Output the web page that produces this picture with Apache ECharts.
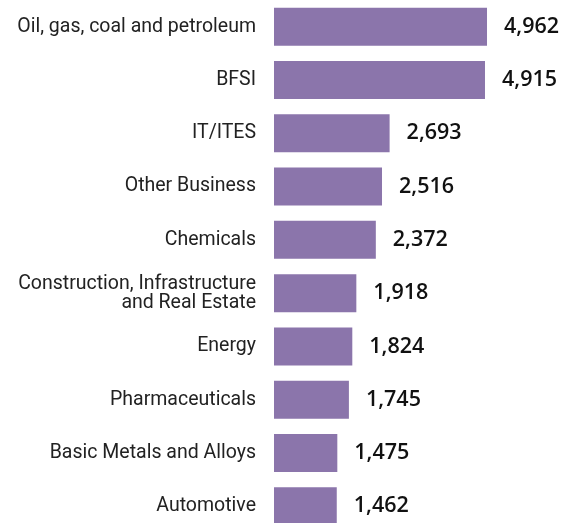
<!DOCTYPE html>
<html>
<head>
<meta charset="utf-8">
<script src="https://cdn.jsdelivr.net/npm/echarts@6/dist/echarts.min.js"></script>
<style>
  html, body { margin: 0; padding: 0; background: #fff; }
  #chart { width: 576px; height: 523px; }
</style>
</head>
<body>
<div id="chart"></div>
<script>
// sectors, top to bottom
var sectors = ['Oil, gas, coal and petroleum', 'BFSI', 'IT/ITES', 'Other Business', 'Chemicals',
    'Construction, Infrastructure\nand Real Estate', 'Energy', 'Pharmaceuticals', 'Basic Metals and Alloys', 'Automotive'];
var values = [4962, 4915, 2693, 2516, 2372, 1918, 1824, 1745, 1475, 1462];

var myChart = echarts.init(document.getElementById('chart'));
var option = {
    animation: false,
    grid: {
        left: 274,
        right: 0,
        top: 0,
        height: 533,
        outerBoundsMode: 'none'
    },
    xAxis: {
        type: 'value',
        min: 0,
        max: 7035,
        show: false
    },
    yAxis: {
        type: 'category',
        inverse: true,
        data: sectors,
        axisLine: { show: false },
        axisTick: { show: false },
        axisLabel: {
            margin: 18,
            color: '#222',
            fontFamily: 'Roboto',
            fontSize: 19.5,
            lineHeight: 19,
            align: 'right'
        }
    },
    series: [{
        type: 'bar',
        data: values,
        barWidth: 38,
        itemStyle: { color: '#8b75ab' },
        label: {
            show: true,
            position: 'right',
            distance: 17,
            color: '#111',
            fontFamily: 'Open Sans',
            fontWeight: 600,
            fontSize: 21.5,
            formatter: function (p) {
                return p.value.toLocaleString('en-US');
            }
        }
    }]
};
myChart.setOption(option);
</script>
</body>
</html>
